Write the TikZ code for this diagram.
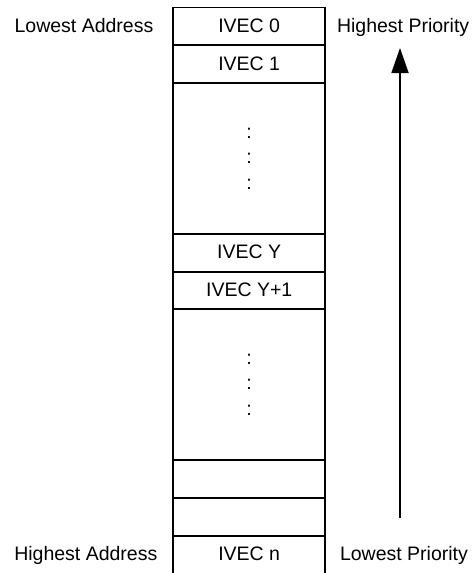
\documentclass[tikz,border=0pt]{standalone}
\usepackage{fontspec}
\setmainfont{Liberation Sans}
\usetikzlibrary{positioning,arrows.meta}

\begin{document}
\begin{tikzpicture}[x=.5pt,y=-.5pt,
  every node/.style={font=\fontsize{9.75}{12.75}\selectfont,inner sep=0pt,outer sep=0pt},
  cell/.style={draw,line width=.9pt,minimum width=75.85pt,minimum height=18.85pt,text height=7pt,text depth=1pt},
  bigcell/.style={draw,line width=.9pt,minimum width=75.85pt,minimum height=75.5pt,align=center},
  lbl/.style={text height=7pt,text depth=1pt}]
\useasboundingbox (0,0) rectangle (473,573);
\node[cell,anchor=north] (r0) at (249.2,7.5) {IVEC 0};
\node[cell,below=0pt of r0] (r1) {IVEC 1};
\node[bigcell,below=0pt of r1] (dots1) {:\\:\\:};
\node[cell,below=0pt of dots1] (ry) {IVEC Y};
\node[cell,below=0pt of ry] (ry1) {IVEC Y+1};
\node[bigcell,below=0pt of ry1] (dots2) {:\\:\\:};
\node[cell,below=0pt of dots2] (e1) {};
\node[cell,below=0pt of e1] (e2) {};
\node[cell,below=0pt of e2] (rn) {IVEC n};
\node[lbl,left=10pt of r0] (loaddr) {Lowest Address};
\node[lbl,left=8pt of rn] (hiaddr) {Highest Address};
\node[lbl,right=6pt of r0] (hiprio) {Highest Priority};
\node[lbl,right=7.5pt of rn] (loprio) {Lowest Priority};
\coordinate (abot) at (400,518);
\coordinate (atop) at (400,48);
\draw[line width=.9pt,-{Triangle[length=12.5pt,width=8.5pt]}] (abot) -- (atop);
\end{tikzpicture}
\end{document}
